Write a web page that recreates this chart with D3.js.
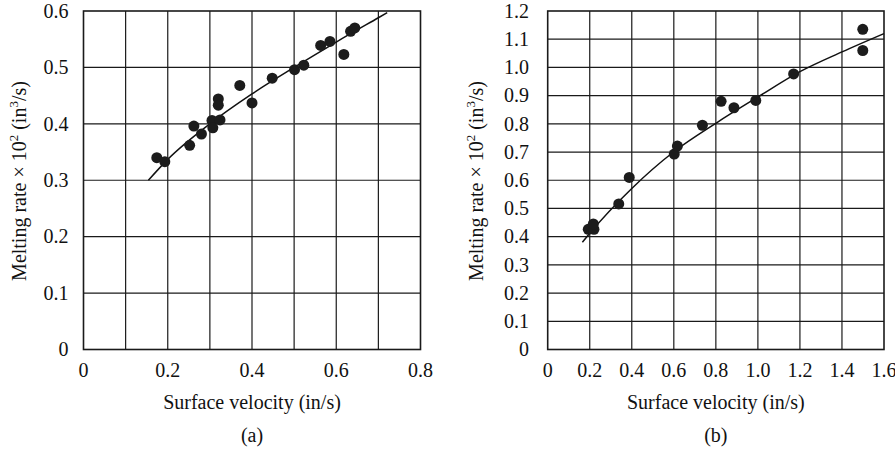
<!DOCTYPE html>
<html>
<head>
<meta charset="utf-8">
<title>Melting rate vs surface velocity</title>
<script src="https://d3js.org/d3.v7.min.js"></script>
<style>
  body { margin: 0; background: #fff; }
  svg { display: block; }
  svg text { font-family: "Liberation Serif", "DejaVu Serif", serif; font-size: 20px; fill: #111; }
  .grid line { stroke: #1a1a1a; stroke-width: 1.2; }
  .frame { fill: none; stroke: #1a1a1a; stroke-width: 1.6; }
  .fit { fill: none; stroke: #111; stroke-width: 1.5; }
  .dot { fill: #1c1c1c; }
</style>
</head>
<body>
<svg width="895" height="449"></svg>
<script>
// panel (a) measurements
var velA  = [0.174, 0.193, 0.252, 0.262, 0.280, 0.305, 0.307, 0.320, 0.320, 0.324,
             0.371, 0.400, 0.448, 0.501, 0.523, 0.563, 0.585, 0.618, 0.634, 0.644];
var rateA = [0.340, 0.333, 0.362, 0.396, 0.382, 0.406, 0.393, 0.444, 0.433, 0.407,
             0.468, 0.437, 0.481, 0.496, 0.504, 0.539, 0.546, 0.523, 0.564, 0.570];
// fitted curve (a)
var fitVelA  = [0.154, 0.2, 0.3, 0.4, 0.5, 0.6, 0.7, 0.721];
var fitRateA = [0.300, 0.337, 0.400, 0.453, 0.500, 0.545, 0.588, 0.597];

// panel (b) measurements
var velB  = [0.193, 0.220, 0.217, 0.338, 0.388, 0.602, 0.617, 0.736, 0.825, 0.886,
             0.990, 1.170, 1.499, 1.499];
var rateB = [0.426, 0.426, 0.445, 0.516, 0.610, 0.693, 0.721, 0.795, 0.880, 0.857,
             0.883, 0.977, 1.060, 1.135];
var fitVelB  = [0.165, 0.2, 0.4, 0.6, 0.8, 1.0, 1.2, 1.4, 1.6];
var fitRateB = [0.380, 0.412, 0.571, 0.701, 0.802, 0.895, 0.985, 1.055, 1.120];

// ticks and grid
var xTicksA  = [0, 0.2, 0.4, 0.6, 0.8];
var xLabelsA = ["0", "0.2", "0.4", "0.6", "0.8"];
var xGridA   = [0.1, 0.2, 0.3, 0.4, 0.5, 0.6, 0.7];
var yTicksA  = [0, 0.1, 0.2, 0.3, 0.4, 0.5, 0.6];
var yLabelsA = ["0", "0.1", "0.2", "0.3", "0.4", "0.5", "0.6"];

var xTicksB  = [0, 0.2, 0.4, 0.6, 0.8, 1.0, 1.2, 1.4, 1.6];
var xLabelsB = ["0", "0.2", "0.4", "0.6", "0.8", "1.0", "1.2", "1.4", "1.6"];
var yTicksB  = [0, 0.1, 0.2, 0.3, 0.4, 0.5, 0.6, 0.7, 0.8, 0.9, 1.0, 1.1, 1.2];
var yLabelsB = ["0", "0.1", "0.2", "0.3", "0.4", "0.5", "0.6", "0.7", "0.8", "0.9", "1.0", "1.1", "1.2"];

var svg = d3.select("svg");

function panel(o) {
  var x = d3.scaleLinear().domain(o.xDomain).range(o.xRange);
  var y = d3.scaleLinear().domain(o.yDomain).range([349.5, 11]);
  var g = svg.append("g");

  // grid lines
  var grid = g.append("g").attr("class", "grid");
  grid.selectAll("line.v").data(o.xGrid).enter().append("line")
      .attr("x1", function(d) { return x(d); }).attr("x2", function(d) { return x(d); })
      .attr("y1", y.range()[0]).attr("y2", y.range()[1]);
  grid.selectAll("line.h").data(o.yTicks.slice(1, -1)).enter().append("line")
      .attr("y1", function(d) { return y(d); }).attr("y2", function(d) { return y(d); })
      .attr("x1", x.range()[0]).attr("x2", x.range()[1]);

  g.append("rect").attr("class", "frame")
      .attr("x", x.range()[0]).attr("y", y.range()[1])
      .attr("width", x.range()[1] - x.range()[0])
      .attr("height", y.range()[0] - y.range()[1]);

  // tick labels
  g.selectAll("text.xt").data(o.xTicks).enter().append("text")
      .attr("x", function(d) { return x(d); })
      .attr("y", 377)
      .attr("text-anchor", "middle")
      .text(function(d, i) { return o.xLabels[i]; });
  g.selectAll("text.yt").data(o.yTicks).enter().append("text")
      .attr("x", o.yLabelX)
      .attr("y", function(d) { return y(d); })
      .attr("dy", "0.34em")
      .attr("text-anchor", "end")
      .text(function(d, i) { return o.yLabels[i]; });

  // fitted curve
  var line = d3.line()
      .x(function(d, i) { return x(o.fitX[i]); })
      .y(function(d) { return y(d); })
      .curve(d3.curveMonotoneX);
  g.append("path").attr("class", "fit").attr("d", line(o.fitY));

  // measured points
  g.selectAll("circle").data(o.ptY).enter().append("circle")
      .attr("class", "dot")
      .attr("cx", function(d, i) { return x(o.ptX[i]); })
      .attr("cy", function(d) { return y(d); })
      .attr("r", 5.5);

  // axis titles
  var cx = (x.range()[0] + x.range()[1]) / 2;
  g.append("text").attr("x", cx).attr("y", 409).attr("text-anchor", "middle")
      .text("Surface velocity (in/s)");
  g.append("text").attr("x", cx).attr("y", 442).attr("text-anchor", "middle")
      .text(o.caption);

  var yt = g.append("text")
      .attr("transform", "translate(" + o.yTitleX + ",181) rotate(-90)")
      .attr("text-anchor", "middle");
  yt.append("tspan").text("Melting rate \u00d7 10");
  yt.append("tspan").attr("dy", -8).style("font-size", "13px").text("2");
  yt.append("tspan").attr("dy", 8).text(" (in");
  yt.append("tspan").attr("dy", -8).style("font-size", "13px").text("3");
  yt.append("tspan").attr("dy", 8).text("/s)");
}

panel({
  xDomain: [0, 0.8], xRange: [83.5, 420.5], yDomain: [0, 0.6],
  xTicks: xTicksA, xLabels: xLabelsA, xGrid: xGridA,
  yTicks: yTicksA, yLabels: yLabelsA, yLabelX: 68.5, yTitleX: 26,
  fitX: fitVelA, fitY: fitRateA, ptX: velA, ptY: rateA, caption: "(a)"
});

panel({
  xDomain: [0, 1.6], xRange: [547.7, 884], yDomain: [0, 1.2],
  xTicks: xTicksB, xLabels: xLabelsB, xGrid: xTicksB.slice(1, -1),
  yTicks: yTicksB, yLabels: yLabelsB, yLabelX: 529, yTitleX: 483,
  fitX: fitVelB, fitY: fitRateB, ptX: velB, ptY: rateB, caption: "(b)"
});
</script>
</body>
</html>
